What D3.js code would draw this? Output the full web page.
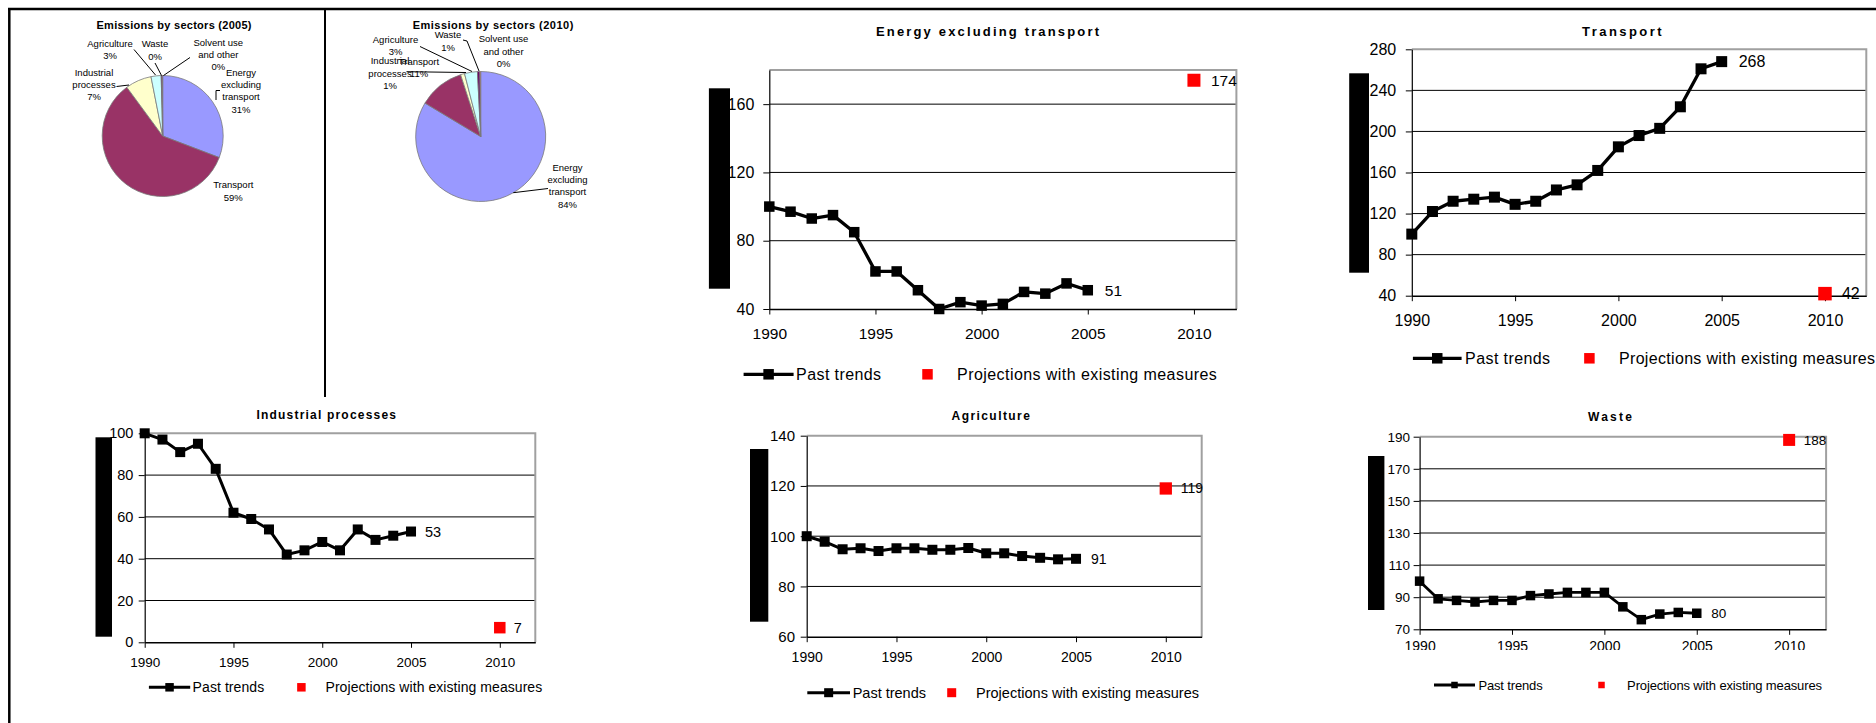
<!DOCTYPE html>
<html>
<head>
<meta charset="utf-8">
<script src="https://cdn.jsdelivr.net/npm/d3@7"></script>
<style>
  body { margin: 0; background: #fff; }
  svg { display: block; }
  text { font-family: Arial, "Liberation Sans", sans-serif; fill: #000; }
</style>
</head>
<body>
<svg id="chart" width="1876" height="723"></svg>
<script>
// ---- data -------------------------------------------------------------
const years = [1990, 1991, 1992, 1993, 1994, 1995, 1996, 1997, 1998, 1999, 2000, 2001, 2002, 2003, 2004, 2005];
const projectionYears = [2010];
const xTickYears = [1990, 1995, 2000, 2005, 2010];

const energyPast      = [100, 97, 93, 95, 85, 62, 62, 51, 40, 44, 42, 43, 50, 49, 55, 51];
const energyProj      = [174];
const transportPast   = [100, 122, 132, 134, 136, 129, 132, 143, 148, 162, 185, 196, 203, 224, 261, 268];
const transportProj   = [42];
const industrialPast  = [100, 97, 91, 95, 83, 62, 59, 54, 42, 44, 48, 44, 54, 49, 51, 53];
const industrialProj  = [7];
const agriculturePast = [100, 97.8, 94.8, 95.2, 94.1, 95.2, 95.2, 94.6, 94.6, 95.3, 93.2, 93.2, 92.1, 91.4, 90.8, 91];
const agricultureProj = [119];
const wastePast       = [100, 89, 88, 87, 88, 88, 91, 92, 93, 93, 93, 84, 76, 79.5, 80.5, 80];
const wasteProj       = [188];

const energyTicks      = [40, 80, 120, 160];
const transportTicks   = [40, 80, 120, 160, 200, 240, 280];
const industrialTicks  = [0, 20, 40, 60, 80, 100];
const agricultureTicks = [60, 80, 100, 120, 140];
const wasteTicks       = [70, 90, 110, 130, 150, 170, 190];

const sectors = ["Energy excluding transport", "Transport", "Industrial processes", "Agriculture", "Waste", "Solvent use and other"];
const sectorLabelLines = [["Energy", "excluding", "transport"], ["Transport"], ["Industrial", "processes"], ["Agriculture"], ["Waste"], ["Solvent use", "and other"]];
const shares2005 = [30.8, 59.1, 7.0, 2.7, 0.3, 0.1];
const shares2010 = [83.6, 11.4, 1.0, 3.2, 0.6, 0.2];
const sectorColors = ["#9999FF", "#993366", "#FFFFCC", "#CCFFFF", "#660066", "#FF8080"];

const legendPast = "Past trends";
const legendProj = "Projections with existing measures";

// ---- drawing ----------------------------------------------------------
const svg = d3.select("#chart");

// outer frame and divider
svg.append("line").attr("x1", 8).attr("x2", 1876).attr("y1", 9).attr("y2", 9)
  .attr("stroke", "#000").attr("stroke-width", 2.5);
svg.append("line").attr("x1", 9.3).attr("x2", 9.3).attr("y1", 8).attr("y2", 723)
  .attr("stroke", "#000").attr("stroke-width", 2.5);
svg.append("line").attr("x1", 325).attr("x2", 325).attr("y1", 9).attr("y2", 397)
  .attr("stroke", "#000").attr("stroke-width", 2);

function drawPanel(c) {
  const g = svg.append("g");
  const x = d3.scaleLinear().domain([1990, 2012]).range([c.left, c.right]);
  const y = d3.scaleLinear().domain(c.domain).range([c.bottom, c.top]);

  // axis-title block
  g.append("rect").attr("x", c.bar[0]).attr("y", c.bar[1])
    .attr("width", c.bar[2] - c.bar[0]).attr("height", c.bar[3] - c.bar[1]).attr("fill", "#000");

  // title
  g.append("text").attr("x", c.titleX).attr("y", c.titleY)
    .attr("text-anchor", "middle").attr("dominant-baseline", "central")
    .attr("font-weight", "bold").attr("font-size", c.titleSize)
    .attr("textLength", c.titleW).attr("lengthAdjust", "spacing")
    .text(c.title);

  // gridlines
  g.append("g").selectAll("line")
    .data(c.ticks.filter(t => t > c.domain[0] && t < c.domain[1]))
    .join("line")
    .attr("x1", c.left).attr("x2", c.right)
    .attr("y1", d => y(d)).attr("y2", d => y(d))
    .attr("stroke", "#000").attr("stroke-width", 1);

  // plot-area border (top and right)
  g.append("path")
    .attr("d", `M${c.left},${c.top}H${c.right}V${c.bottom}`)
    .attr("fill", "none").attr("stroke", "#a0a0a0").attr("stroke-width", 2);

  // y axis
  const ya = g.append("g").attr("transform", `translate(${c.left},0)`)
    .call(d3.axisLeft(y).tickValues(c.ticks).tickSize(6).tickSizeOuter(0)
      .tickPadding(c.left - c.yLabelRight - 6).tickFormat(d3.format("d")));
  ya.attr("font-family", null).attr("font-size", null);
  ya.select(".domain").attr("stroke", "#000").attr("stroke-width", 1.2);
  ya.selectAll(".tick line").attr("stroke", "#000");
  ya.selectAll(".tick text").attr("font-size", c.yTickSize);

  // x axis
  const xa = g.append("g").attr("transform", `translate(0,${c.bottom})`)
    .call(d3.axisBottom(x).tickValues(xTickYears).tickSize(5.5).tickSizeOuter(0)
      .tickFormat(d3.format("d")));
  xa.attr("font-family", null).attr("font-size", null);
  xa.select(".domain").attr("stroke", "#000").attr("stroke-width", 1.5);
  xa.selectAll(".tick line").attr("stroke", "#000");
  xa.selectAll(".tick text").attr("font-size", c.xTickSize)
    .attr("y", c.xLabelY - c.bottom).attr("dy", "0.35em");
  if (c.xClip) {
    const id = "clip-" + c.key;
    svg.append("clipPath").attr("id", id).append("rect")
      .attr("x", c.left - 40).attr("y", -10).attr("width", c.right - c.left + 80)
      .attr("height", c.xClip - c.bottom + 10);
    xa.selectAll(".tick text").attr("clip-path", null);
    xa.attr("clip-path", `url(#${id})`);
  }

  // past trends
  const pts = years.map((yr, i) => [yr, c.past[i]]);
  g.append("path").datum(pts)
    .attr("d", d3.line().x(d => x(d[0])).y(d => y(d[1])))
    .attr("fill", "none").attr("stroke", "#000").attr("stroke-width", c.lineW)
    .attr("stroke-linejoin", "round");
  g.append("g").selectAll("rect").data(pts).join("rect")
    .attr("x", d => x(d[0]) - c.markSize / 2).attr("y", d => y(d[1]) - c.markSize / 2)
    .attr("width", c.markSize).attr("height", c.markSize).attr("fill", "#000");

  // projection
  const proj = projectionYears.map((yr, i) => [yr, c.proj[i]]);
  g.append("g").selectAll("rect").data(proj).join("rect")
    .attr("x", d => x(d[0]) - c.projSize / 2).attr("y", d => y(d[1]) - c.projSize / 2)
    .attr("width", c.projSize).attr("height", c.projSize).attr("fill", "#FF0000");

  // value labels
  const last = pts[pts.length - 1];
  g.append("g").selectAll("text").data([last, ...proj]).join("text")
    .attr("x", d => x(d[0]) + c.labelDx).attr("y", d => y(d[1]))
    .attr("dy", "0.35em").attr("font-size", c.valueSize)
    .text(d => d3.format("d")(Math.round(d[1])));

  // legend
  const L = c.legend;
  const lg = g.append("g");
  lg.append("line").attr("x1", L.x1).attr("x2", L.x2).attr("y1", L.y).attr("y2", L.y)
    .attr("stroke", "#000").attr("stroke-width", c.lineW);
  lg.append("rect").attr("x", (L.x1 + L.x2) / 2 - L.mark / 2).attr("y", L.y - L.mark / 2)
    .attr("width", L.mark).attr("height", L.mark).attr("fill", "#000");
  lg.append("text").attr("x", L.textX).attr("y", L.y).attr("dy", "0.35em")
    .attr("font-size", L.font).attr("textLength", L.textW).attr("lengthAdjust", "spacing")
    .text(legendPast);
  lg.append("rect").attr("x", L.projX - L.mark / 2).attr("y", L.y - L.mark / 2)
    .attr("width", L.mark).attr("height", L.mark).attr("fill", "#FF0000");
  lg.append("text").attr("x", L.projTextX).attr("y", L.y).attr("dy", "0.35em")
    .attr("font-size", L.font).attr("textLength", L.projTextW).attr("lengthAdjust", "spacing")
    .text(legendProj);
}

drawPanel({
  key: "energy", title: "Energy excluding transport", past: energyPast, proj: energyProj,
  domain: [40, 180], ticks: energyTicks,
  left: 769.3, right: 1236.4, top: 70, bottom: 309,
  bar: [708.9, 88.3, 730, 288.7],
  titleX: 987.5, titleY: 31.7, titleW: 223, titleSize: 13,
  yLabelRight: 754.3, yTickSize: 16, xLabelY: 333.3, xTickSize: 15.5,
  lineW: 3.3, markSize: 10.5, projSize: 13, labelDx: 17, valueSize: 15.5,
  legend: { y: 374.3, x1: 743.6, x2: 793.6, mark: 10.5, textX: 796.1, textW: 85, font: 16,
            projX: 927.5, projTextX: 957.1, projTextW: 259.7 }
});

drawPanel({
  key: "transport", title: "Transport", past: transportPast, proj: transportProj,
  domain: [40, 280], ticks: transportTicks,
  left: 1411.8, right: 1866.3, top: 49.3, bottom: 295.7,
  bar: [1349.2, 73.3, 1369, 272.7],
  titleX: 1621.8, titleY: 31.7, titleW: 79.4, titleSize: 13,
  yLabelRight: 1396.2, yTickSize: 16, xLabelY: 320, xTickSize: 16,
  lineW: 3.3, markSize: 11, projSize: 13.5, labelDx: 17, valueSize: 16,
  legend: { y: 358.3, x1: 1412.9, x2: 1461.6, mark: 10.5, textX: 1465.1, textW: 85, font: 16,
            projX: 1589.4, projTextX: 1619, projTextW: 256 }
});

drawPanel({
  key: "industrial", title: "Industrial processes", past: industrialPast, proj: industrialProj,
  domain: [0, 100], ticks: industrialTicks,
  left: 144.7, right: 535.3, top: 433.3, bottom: 642.3,
  bar: [95.5, 437.3, 112, 636.7],
  titleX: 326.2, titleY: 415, titleW: 139.5, titleSize: 12,
  yLabelRight: 133.4, yTickSize: 14.5, xLabelY: 662.3, xTickSize: 13.5,
  lineW: 3, markSize: 10, projSize: 11.5, labelDx: 14, valueSize: 14.5,
  legend: { y: 687.3, x1: 148.9, x2: 190.2, mark: 8.5, textX: 192.6, textW: 71.6, font: 14,
            projX: 301.4, projTextX: 325.5, projTextW: 216.7 }
});

drawPanel({
  key: "agriculture", title: "Agriculture", past: agriculturePast, proj: agricultureProj,
  domain: [60, 140], ticks: agricultureTicks,
  left: 806.7, right: 1201.7, top: 435.7, bottom: 636.7,
  bar: [750, 449, 768.3, 621.7],
  titleX: 990.7, titleY: 415.7, titleW: 78.3, titleSize: 12,
  yLabelRight: 795, yTickSize: 15, xLabelY: 657.3, xTickSize: 14,
  lineW: 3, markSize: 10, projSize: 12.3, labelDx: 15, valueSize: 14,
  legend: { y: 692.7, x1: 807.3, x2: 850, mark: 9, textX: 852.7, textW: 73.3, font: 14.5,
            projX: 951.7, projTextX: 976, projTextW: 223 }
});

drawPanel({
  key: "waste", title: "Waste", past: wastePast, proj: wasteProj,
  domain: [70, 190], ticks: wasteTicks,
  left: 1419.6, right: 1826.1, top: 436.7, bottom: 629.3,
  bar: [1368, 456, 1384.4, 610],
  titleX: 1610, titleY: 416.7, titleW: 43.8, titleSize: 12,
  yLabelRight: 1410.1, yTickSize: 13.5, xLabelY: 646.5, xTickSize: 14, xClip: 650,
  lineW: 2.8, markSize: 9.5, projSize: 12, labelDx: 14.5, valueSize: 13.5,
  legend: { y: 685, x1: 1434, x2: 1475, mark: 6.5, textX: 1478.4, textW: 64.3, font: 13,
            projX: 1601.5, projTextX: 1627.1, projTextW: 194.9 }
});

// ---- pies -------------------------------------------------------------
function drawPie(c) {
  const g = svg.append("g");
  const data = sectors.map((s, i) => ({ name: s, lines: sectorLabelLines[i], v: c.shares[i], color: sectorColors[i] }));
  const total = d3.sum(data, d => d.v);
  const arcs = d3.pie().sort(null).value(d => d.v)(data);
  const arc = d3.arc().innerRadius(0).outerRadius(c.r);

  g.append("text").attr("x", c.titleX).attr("y", c.titleY)
    .attr("text-anchor", "middle").attr("dominant-baseline", "central")
    .attr("font-weight", "bold").attr("font-size", 11)
    .attr("textLength", c.titleW).attr("lengthAdjust", "spacing")
    .text(`Emissions by sectors (${c.year})`);

  g.append("g").attr("transform", `translate(${c.cx},${c.cy})`)
    .selectAll("path").data(arcs).join("path")
    .attr("d", arc).attr("fill", d => d.data.color)
    .attr("stroke", "#7a7a7a").attr("stroke-width", 0.8);

  g.append("g").selectAll("polyline").data(c.leaders).join("polyline")
    .attr("points", d => d.map(p => p.join(",")).join(" "))
    .attr("fill", "none").attr("stroke", "#000").attr("stroke-width", 1);

  const lab = g.append("g").selectAll("text").data(data).join("text")
    .attr("text-anchor", "middle").attr("font-size", 9.5);
  lab.each(function (d, i) {
    const t = d3.select(this);
    const pos = c.labels[i];
    const lines = [...d.lines, Math.round(d.v / total * 100) + "%"];
    lines.forEach((ln, k) => {
      t.append("tspan").attr("x", pos.x).attr("y", pos.y + k * 12.2).attr("dy", "0.35em").text(ln);
    });
  });
}

drawPie({
  year: "2005", shares: shares2005, cx: 162.7, cy: 136, r: 60.5,
  titleX: 174, titleY: 25, titleW: 155,
  labels: [{ x: 241, y: 72.7 }, { x: 233.3, y: 185 }, { x: 94, y: 72.7 }, { x: 110, y: 43.3 }, { x: 155, y: 44 }, { x: 218.3, y: 42.7 }],
  leaders: [
    [[220, 90.5], [216, 90.5], [216, 100]],
    [[116.5, 86.5], [129, 85]],
    [[134, 49.5], [155.5, 75]],
    [[155, 63], [161.5, 75.5]],
    [[190, 57.5], [163.5, 75.5]]
  ]
});

drawPie({
  year: "2010", shares: shares2010, cx: 480.7, cy: 136.5, r: 65,
  titleX: 493, titleY: 25, titleW: 160.7,
  labels: [{ x: 567.5, y: 167.7 }, { x: 419, y: 61.7 }, { x: 390, y: 61 }, { x: 395.5, y: 39.3 }, { x: 448, y: 35 }, { x: 503.5, y: 39 }],
  leaders: [
    [[513.3, 192.7], [548, 188.5]],
    [[406.5, 71.7], [466, 72.5]],
    [[420, 46.5], [472, 71.5]],
    [[463, 40], [467, 41], [479, 71]]
  ]
});
</script>
</body>
</html>
